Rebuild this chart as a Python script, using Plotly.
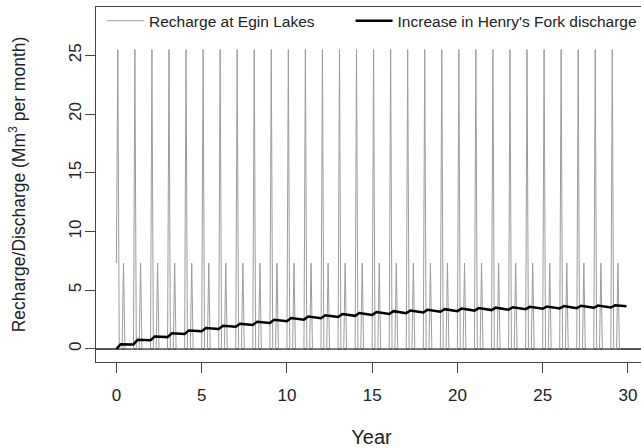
import plotly.graph_objects as go

# model years and the monthly recharge pulses at Egin Lakes (Mm3 per month)
years = list(range(30))
recharge_start = 7.3
spring_peak = [25.5, 25.5, 25.5, 25.5, 25.5, 25.5, 25.5, 25.5, 25.5, 25.5,
               25.5, 25.5, 25.5, 25.5, 25.5, 25.5, 25.5, 25.5, 25.5, 25.5,
               25.5, 25.5, 25.5, 25.5, 25.5, 25.5, 25.5, 25.5, 25.5, 25.5]
fall_peak = [7.3, 7.3, 7.3, 7.3, 7.3, 7.3, 7.3, 7.3, 7.3, 7.3,
             7.3, 7.3, 7.3, 7.3, 7.3, 7.3, 7.3, 7.3, 7.3, 7.3,
             7.3, 7.3, 7.3, 7.3, 7.3, 7.3, 7.3, 7.3, 7.3, 7.3]
spring_month = 1
fall_month = 5
last_recharge_month = 355

# increase in Henry's Fork discharge: value before and after each yearly rise
discharge_trough = [0.00, 0.38, 0.74, 1.00, 1.26, 1.50, 1.70, 1.88, 2.04, 2.20,
                    2.35, 2.49, 2.61, 2.72, 2.81, 2.89, 2.97, 3.04, 3.10, 3.16,
                    3.21, 3.26, 3.30, 3.34, 3.38, 3.41, 3.44, 3.47, 3.50, 3.52]
discharge_peak = [0.40, 0.78, 1.05, 1.32, 1.57, 1.78, 1.97, 2.14, 2.31, 2.47,
                  2.62, 2.75, 2.86, 2.96, 3.05, 3.13, 3.21, 3.27, 3.33, 3.38,
                  3.43, 3.47, 3.51, 3.55, 3.58, 3.61, 3.64, 3.67, 3.69, 3.71]
rise_length = 0.25
discharge_end = 3.62
last_discharge_month = 359

# monthly recharge series
t_rech, v_rech = [], []
for k in years:
    for m in range(12):
        idx = 12 * k + m
        if idx > last_recharge_month:
            break
        v = 0.0
        if m == spring_month:
            v = spring_peak[k]
        elif m == fall_month:
            v = fall_peak[k]
        if idx == 0:
            v = recharge_start
        t_rech.append(idx / 12)
        v_rech.append(v)

# discharge vertices
t_dis, v_dis = [], []
for k in years:
    t_dis += [k, k + rise_length]
    v_dis += [discharge_trough[k], discharge_peak[k]]
t_dis.append(last_discharge_month / 12)
v_dis.append(discharge_end)

fig = go.Figure()
fig.add_trace(go.Scatter(x=t_rech, y=v_rech, mode="lines",
                         name="Recharge at Egin Lakes", showlegend=True,
                         line=dict(color="#9c9c9c", width=1),
                         legend="legend"))
fig.add_trace(go.Scatter(x=t_dis, y=v_dis, mode="lines",
                         name="Increase in Henry's Fork discharge",
                         showlegend=True,
                         line=dict(color="black", width=2.5),
                         legend="legend2"))

# plot box runs past the right edge of the window, as in the original
font = "Liberation Sans, Arial, sans-serif"
fig.update_layout(
    width=650, height=448, showlegend=True,
    margin=dict(l=96, r=3, t=7, b=86),
    plot_bgcolor="white", paper_bgcolor="white",
    font=dict(family=font, size=17, color="#222222"),
    legend=dict(orientation="h", x=0.0110, xanchor="left", y=0.960,
                yanchor="middle", font=dict(size=15.5), itemwidth=37,
                bgcolor="rgba(0,0,0,0)"),
    legend2=dict(orientation="h", x=0.462, xanchor="left", y=0.960,
                 yanchor="middle", font=dict(size=15.5), itemwidth=37,
                 bgcolor="rgba(0,0,0,0)"),
)
fig.update_xaxes(range=[-1.197, 31.12], tickmode="array",
                 tickvals=[0, 5, 10, 15, 20, 25, 30],
                 ticks="outside", ticklen=10, tickcolor="#444444",
                 ticklabelstandoff=8, automargin=False,
                 showline=True, mirror=True, linecolor="#444444",
                 linewidth=1, showgrid=False, zeroline=False,
                 title=dict(text="Year", standoff=28))
fig.update_yaxes(range=[-1.12, 29.12], tickmode="array",
                 tickvals=[0, 5, 10, 15, 20, 25],
                 ticks="outside", ticklen=10, tickcolor="#444444",
                 tickangle=-90, ticklabelstandoff=-3, automargin=False,
                 showline=True, linecolor="#444444", linewidth=1,
                 showgrid=False, zeroline=True, zerolinecolor="#555555",
                 zerolinewidth=1.5,
                 title=dict(text="Recharge/Discharge (Mm<sup>3</sup> per month)",
                            font=dict(size=17.5), standoff=36))

# no page margin, no scrollbars, no mode bar
fig.write_html("out.html", config={"displayModeBar": False},
               post_script="document.body.style.margin='0';"
                           "document.documentElement.style.overflow='hidden';")
